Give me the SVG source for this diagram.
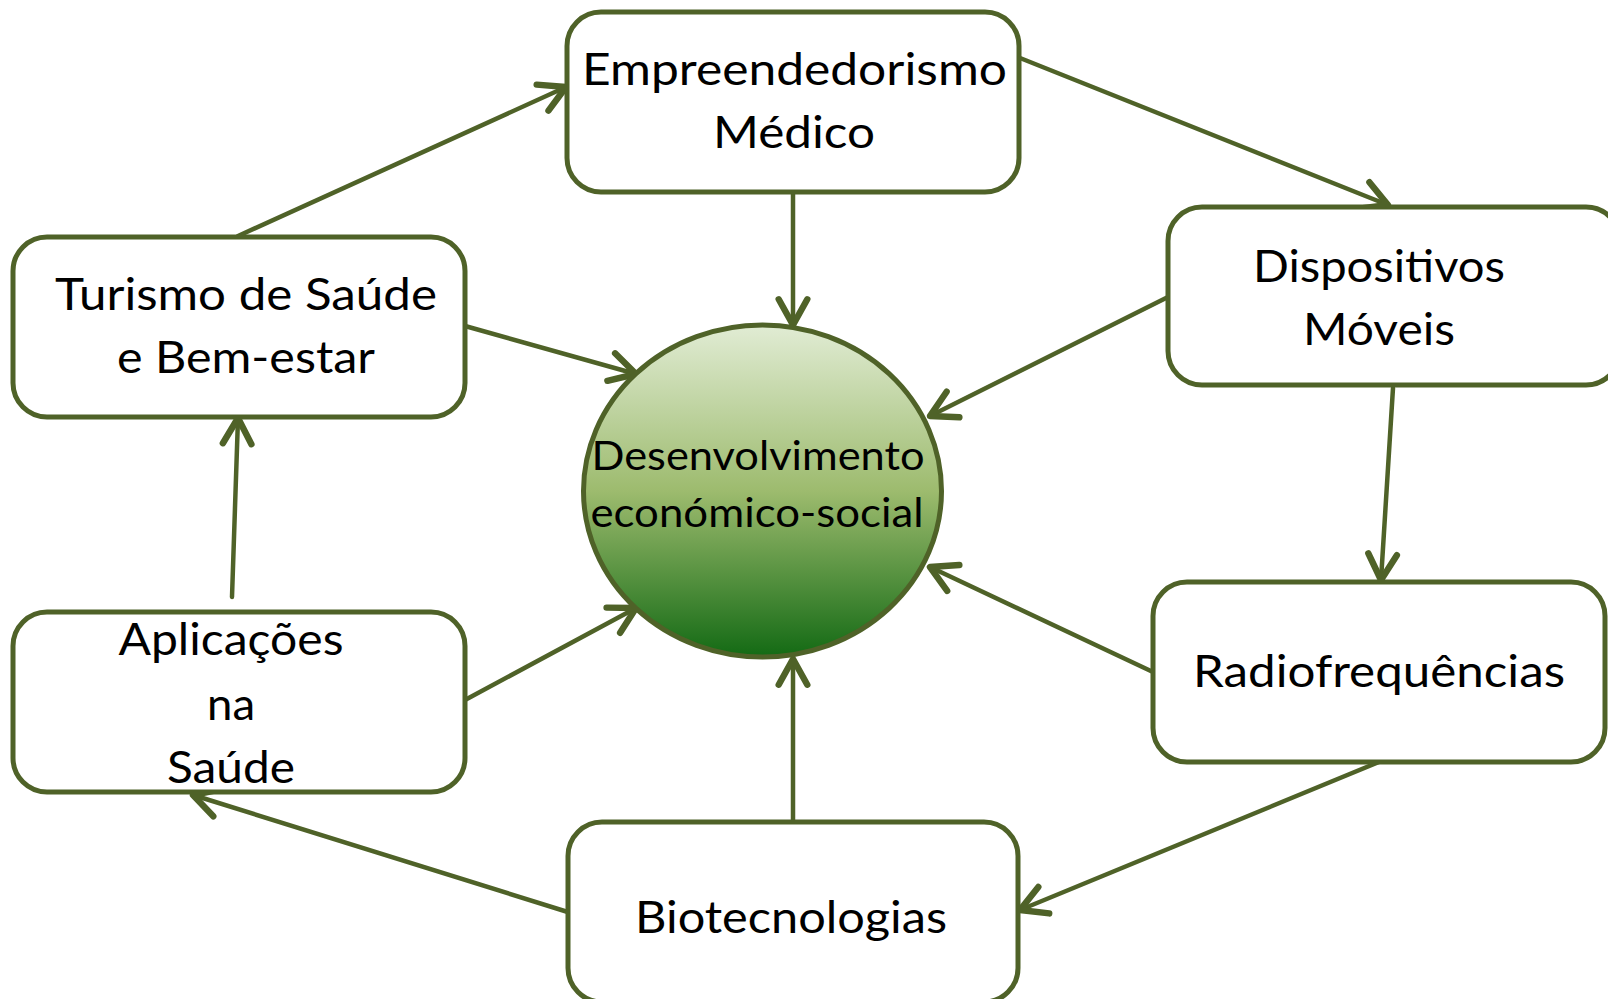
<svg xmlns="http://www.w3.org/2000/svg" width="1608" height="999" viewBox="0 0 1608 999">
<style>
.box{fill:#ffffff;stroke:#4F6228;stroke-width:5}
.lbl{font-family:Lato,"Open Sans","Liberation Sans",sans-serif;font-size:44px;fill:#000;text-anchor:middle}
.clbl{font-family:Lato,"Open Sans","Liberation Sans",sans-serif;font-size:40px;fill:#000;text-anchor:middle}
.conn{stroke:#4F6228;stroke-width:4.5;fill:none;stroke-linecap:round;marker-end:url(#arr)}
</style>
<defs>
<marker id="arr" markerUnits="userSpaceOnUse" markerWidth="40" markerHeight="40" refX="0" refY="0" viewBox="-24 -14 28 28" orient="auto" overflow="visible">
<path d="M-18,-10 L0,0 L-18,10" fill="none" stroke="#4F6228" stroke-width="4.5" stroke-linecap="round" stroke-linejoin="round"/>
</marker>
<linearGradient id="g" x1="0" y1="0" x2="0" y2="1">
<stop offset="0" stop-color="#e1ecd4"/>
<stop offset="0.5" stop-color="#9dbb6e"/>
<stop offset="1" stop-color="#136a14"/>
</linearGradient>
</defs>
<rect width="1608" height="999" fill="#ffffff"/>
<g id="connectors">
<line class="conn" x1="238" y1="236" x2="566" y2="87"/>
<line class="conn" x1="1020" y1="58" x2="1388" y2="205"/>
<line class="conn" x1="793" y1="192" x2="793" y2="325"/>
<line class="conn" x1="465" y1="326" x2="636" y2="374"/>
<line class="conn" x1="1168" y1="297" x2="930" y2="416"/>
<line class="conn" x1="1393" y1="388" x2="1381" y2="580"/>
<line class="conn" x1="1153" y1="672" x2="930" y2="567"/>
<line class="conn" x1="1379" y1="762" x2="1020" y2="910"/>
<line class="conn" x1="793" y1="820" x2="793" y2="659"/>
<line class="conn" x1="571" y1="913" x2="193" y2="795"/>
<line class="conn" x1="465" y1="700" x2="636" y2="608"/>
<line class="conn" x1="232" y1="597" x2="238" y2="418"/>
</g>
<g id="node-empreendedorismo">
<rect class="box" x="567" y="12" width="452" height="180" rx="34"/>
<text class="lbl" x="794.5" y="85" textLength="425" lengthAdjust="spacingAndGlyphs">Empreendedorismo</text>
<text class="lbl" x="794" y="148" textLength="162" lengthAdjust="spacingAndGlyphs">Médico</text>
</g>
<g id="node-dispositivos">
<rect class="box" x="1168" y="207" width="452" height="178" rx="34"/>
<text class="lbl" x="1379" y="282" textLength="252" lengthAdjust="spacingAndGlyphs">Dispositivos</text>
<text class="lbl" x="1379" y="345" textLength="152" lengthAdjust="spacingAndGlyphs">Móveis</text>
</g>
<g id="node-turismo">
<rect class="box" x="13" y="237" width="452" height="180" rx="34"/>
<text class="lbl" x="246" y="310" textLength="382" lengthAdjust="spacingAndGlyphs">Turismo de Saúde</text>
<text class="lbl" x="246" y="373" textLength="258" lengthAdjust="spacingAndGlyphs">e Bem-estar</text>
</g>
<g id="node-desenvolvimento">
<ellipse cx="762.5" cy="491" rx="179" ry="166" fill="url(#g)" stroke="#4F6228" stroke-width="5"/>
<text class="clbl" x="758" y="470" textLength="333" lengthAdjust="spacingAndGlyphs">Desenvolvimento</text>
<text class="clbl" x="757" y="527" textLength="333" lengthAdjust="spacingAndGlyphs">económico-social</text>
</g>
<g id="node-aplicacoes">
<rect class="box" x="13" y="612" width="452" height="180" rx="34"/>
<text class="lbl" x="231" y="655" textLength="225" lengthAdjust="spacingAndGlyphs">Aplicações</text>
<text class="lbl" x="231" y="720" textLength="48" lengthAdjust="spacingAndGlyphs">na</text>
<text class="lbl" x="231" y="783" textLength="128" lengthAdjust="spacingAndGlyphs">Saúde</text>
</g>
<g id="node-radiofrequencias">
<rect class="box" x="1153" y="582" width="452" height="180" rx="34"/>
<text class="lbl" x="1379" y="687" textLength="372" lengthAdjust="spacingAndGlyphs">Radiofrequências</text>
</g>
<g id="node-biotecnologias">
<rect class="box" x="568" y="822" width="450" height="180" rx="34"/>
<text class="lbl" x="791" y="933" textLength="312" lengthAdjust="spacingAndGlyphs">Biotecnologias</text>
</g>
</svg>
